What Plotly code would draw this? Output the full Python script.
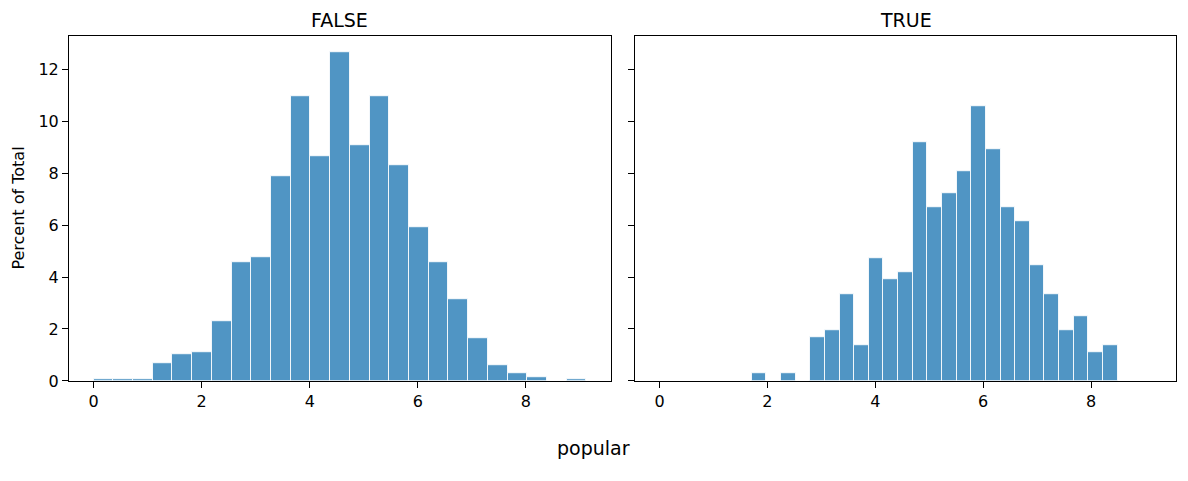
import plotly.graph_objects as go

# ---- data (percent of total per bin) ----
false_bin_start = 0.0
false_bin_width = 0.3648
false_pct = [0.06, 0.06, 0.06, 0.69, 1.03, 1.12, 2.28, 4.58, 4.77, 7.87,
             10.97, 8.66, 12.64, 9.09, 10.97, 8.29, 5.91, 4.58, 3.15, 1.65,
             0.59, 0.31, 0.16, 0.0, 0.05]

true_bin_start = 1.708
true_bin_width = 0.2714
true_pct = [0.28, 0.0, 0.28, 0.0, 1.67, 1.95, 3.34, 1.39, 4.74, 3.90,
            4.18, 9.19, 6.69, 7.24, 8.08, 10.58, 8.91, 6.69, 6.13, 4.46,
            3.34, 1.95, 2.51, 1.11, 1.39]

panel_titles = ["FALSE", "TRUE"]
x_ticks = [0, 2, 4, 6, 8]
y_ticks = [0, 2, 4, 6, 8, 10, 12]

W, H = 1188, 481
fill = "rgba(31,119,180,0.78)"
edge = "rgba(255,255,255,0.85)"


def centers(start, width, n):
    return [start + (i + 0.5) * width for i in range(n)]


fig = go.Figure()
fig.add_trace(go.Bar(
    x=centers(false_bin_start, false_bin_width, len(false_pct)), y=false_pct,
    width=false_bin_width, marker=dict(color=fill, line=dict(color=edge, width=1)),
    xaxis="x", yaxis="y", showlegend=False))
fig.add_trace(go.Bar(
    x=centers(true_bin_start, true_bin_width, len(true_pct)), y=true_pct,
    width=true_bin_width, marker=dict(color=fill, line=dict(color=edge, width=1)),
    xaxis="x2", yaxis="y2", showlegend=False))

xmin = min(false_bin_start, true_bin_start)
xmax = max(false_bin_start + false_bin_width * len(false_pct),
           true_bin_start + true_bin_width * len(true_pct))
pad = 0.05 * (xmax - xmin)
xr = [xmin - pad, xmax + pad]
ymax = max(max(false_pct), max(true_pct))
yr = [0, ymax * 1.05]

font = dict(family="DejaVu Sans", size=16, color="black")
axis_common = dict(showline=True, linecolor="black", linewidth=1, mirror=True,
                   ticks="outside", ticklen=6, tickwidth=1, tickcolor="black",
                   showgrid=False, zeroline=False, tickfont=font)

y0 = 1 - 389 / H
y1 = 1 - 37 / H
fig.update_layout(
    width=W, height=H, margin=dict(l=0, r=0, t=0, b=0),
    paper_bgcolor="white", plot_bgcolor="white", bargap=0,
    font=font,
    xaxis=dict(domain=[69 / W, 611 / W], range=xr, tickvals=x_ticks, anchor="y", **axis_common),
    xaxis2=dict(domain=[635 / W, 1176 / W], range=xr, tickvals=x_ticks, anchor="y2", **axis_common),
    yaxis=dict(domain=[y0, y1], range=yr, tickvals=y_ticks, anchor="x", **axis_common),
    yaxis2=dict(domain=[y0, y1], range=yr, tickvals=y_ticks, showticklabels=False,
                anchor="x2", **axis_common),
)

ann = [
    dict(text=panel_titles[0], x=(69 + 611) / 2 / W, y=1 - 20 / H),
    dict(text=panel_titles[1], x=(635 + 1176) / 2 / W, y=1 - 20 / H),
]
for a in ann:
    fig.add_annotation(xref="paper", yref="paper", x=a["x"], y=a["y"], text=a["text"],
                       showarrow=False, xanchor="center", yanchor="middle",
                       font=dict(family="DejaVu Sans", size=19, color="black"))
fig.add_annotation(xref="paper", yref="paper", x=19 / W, y=1 - 213 / H, text="Percent of Total",
                   textangle=-90, showarrow=False, xanchor="center", yanchor="middle",
                   font=dict(family="DejaVu Sans", size=16, color="black"))
fig.add_annotation(xref="paper", yref="paper", x=593 / W, y=1 - 458 / H, text="popular",
                   showarrow=False, xanchor="center", yanchor="middle",
                   font=dict(family="DejaVu Sans", size=19, color="black"))

fig.write_html("out.html")
